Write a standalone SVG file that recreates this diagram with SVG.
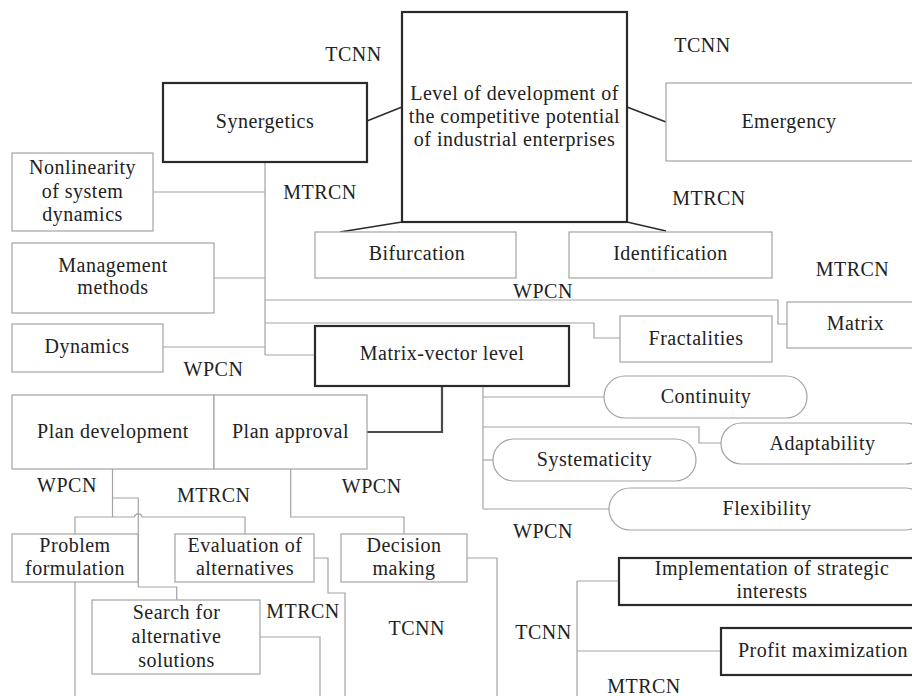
<svg xmlns="http://www.w3.org/2000/svg" width="912" height="696" viewBox="0 0 912 696">
<style>
.box{fill:#fff;stroke:#a3a3a3;stroke-width:1.2}
.tbox{fill:#fff;stroke:#2a2a2a;stroke-width:2.2}
.ln{fill:none;stroke:#a3a3a3;stroke-width:1.2}
.dk{fill:none;stroke:#2a2a2a;stroke-width:1.5}
.dk2{fill:none;stroke:#4a4a4a;stroke-width:2.2}
</style>
<rect width="912" height="696" fill="#fff"/>
<g id="connectors">
<path class="dk" d="M367,121 L402,107"/>
<path class="dk" d="M627,107 L666,122"/>
<path class="dk" d="M402,222 L340,232"/>
<path class="dk" d="M627,222 L666,231"/>
<path class="ln" d="M265,162 V355"/>
<path class="ln" d="M153,192 H265"/>
<path class="ln" d="M214,278 H265"/>
<path class="ln" d="M163,347 H265"/>
<path class="ln" d="M265,355 H315"/>
<path class="ln" d="M265,300 H778 V324 H787"/>
<path class="ln" d="M265,323 H594 V338 H620"/>
<path class="ln" d="M483,386 V509"/>
<path class="ln" d="M483,397 H604"/>
<path class="ln" d="M483,427 H699 V443 H721"/>
<path class="ln" d="M483,460 H493"/>
<path class="ln" d="M483,509 H609"/>
<path d="M488,374 V384" stroke="#a8c0e0" stroke-width="1.2"/>
<path class="dk2" d="M442,386 V432 H367"/>
<path class="ln" d="M112.5,469 V517"/>
<path class="ln" d="M75,534 V517 H134.5 A3.8,3.8 0 0 1 142,517 H245 V534"/>
<path class="ln" d="M112.5,498 H138.3 V587 H176.7 V600"/>
<path class="ln" d="M75,582 V696"/>
<path class="ln" d="M314,558 H328 V593 H345 V696"/>
<path class="ln" d="M290.7,469 V517 H404 V534"/>
<path class="ln" d="M467,558 H497 V696"/>
<path class="ln" d="M260,637 H320 V696"/>
<path class="ln" d="M577,581 V696"/>
<path class="ln" d="M577,581 H619"/>
<path class="ln" d="M577,651 H721"/>
</g>
<g id="labels" font-family="Liberation Serif, serif" font-size="20" fill="#222" text-anchor="middle" letter-spacing="0.5">
<text x="353.5" y="61">TCNN</text>
<text x="702.5" y="52">TCNN</text>
<text x="320" y="199">MTRCN</text>
<text x="709" y="205">MTRCN</text>
<text x="852.5" y="276">MTRCN</text>
<text x="543" y="298">WPCN</text>
<text x="213.5" y="376">WPCN</text>
<text x="543" y="538">WPCN</text>
<text x="67" y="492">WPCN</text>
<text x="213.7" y="502">MTRCN</text>
<text x="371.7" y="493">WPCN</text>
<text x="303" y="618">MTRCN</text>
<text x="416.7" y="635">TCNN</text>
<text x="543.5" y="639">TCNN</text>
<text x="644" y="693">MTRCN</text>
</g>
<g id="nodes" font-family="Liberation Serif, serif" font-size="20" fill="#222" text-anchor="middle" letter-spacing="0.5">
<g id="main"><rect class="tbox" x="402" y="12" width="225" height="210"/>
<text x="514.5" y="100">Level of development of</text>
<text x="514.5" y="123">the competitive potential</text>
<text x="514.5" y="146">of industrial enterprises</text></g>
<g id="synergetics"><rect class="tbox" x="163" y="83" width="204" height="79"/><text x="265" y="128">Synergetics</text></g>
<g id="nonlinearity"><rect class="box" x="12" y="153" width="141" height="78"/>
<text x="82.5" y="174">Nonlinearity</text><text x="82.5" y="198">of system</text><text x="82.5" y="221">dynamics</text></g>
<g id="emergency"><rect class="box" x="666" y="83" width="252" height="78"/><text x="789" y="128">Emergency</text></g>
<g id="bifurcation"><rect class="box" x="315" y="232" width="201" height="46"/><text x="417" y="260">Bifurcation</text></g>
<g id="identification"><rect class="box" x="569" y="232" width="203" height="46"/><text x="670.5" y="260">Identification</text></g>
<g id="management"><rect class="box" x="12" y="243" width="202" height="70"/>
<text x="113" y="272">Management</text><text x="113" y="294">methods</text></g>
<g id="dynamics"><rect class="box" x="12" y="324" width="151" height="48"/><text x="87" y="353">Dynamics</text></g>
<g id="matrixvector"><rect class="tbox" x="315" y="326" width="254" height="60"/><text x="442" y="360">Matrix-vector level</text></g>
<g id="fractalities"><rect class="box" x="620" y="316" width="152" height="46"/><text x="696" y="345">Fractalities</text></g>
<g id="matrix"><rect class="box" x="787" y="302" width="140" height="46"/><text x="855.5" y="330">Matrix</text></g>
<g id="plandev"><rect class="box" x="12" y="395" width="202" height="74"/><text x="113" y="438">Plan development</text></g>
<g id="planapproval"><rect class="box" x="214" y="395" width="153" height="74"/><text x="290.5" y="438">Plan approval</text></g>
<g id="continuity"><rect class="box" x="604" y="376" width="203" height="42" rx="21"/><text x="706" y="403">Continuity</text></g>
<g id="adaptability"><rect class="box" x="721" y="423" width="205" height="41" rx="20.5"/><text x="822.5" y="450">Adaptability</text></g>
<g id="systematicity"><rect class="box" x="493" y="439" width="203" height="42" rx="21"/><text x="594.5" y="466">Systematicity</text></g>
<g id="flexibility"><rect class="box" x="609" y="488" width="317" height="42" rx="21"/><text x="767" y="515">Flexibility</text></g>
<g id="problem"><rect class="box" x="12" y="534" width="126" height="48"/>
<text x="75" y="552">Problem</text><text x="75" y="575">formulation</text></g>
<g id="evaluation"><rect class="box" x="175" y="534" width="139" height="48"/>
<text x="245" y="552">Evaluation of</text><text x="245" y="575">alternatives</text></g>
<g id="decision"><rect class="box" x="341" y="534" width="126" height="48"/>
<text x="404" y="552">Decision</text><text x="404" y="575">making</text></g>
<g id="search"><rect class="box" x="92" y="600" width="168" height="74"/>
<text x="176.5" y="619">Search for</text><text x="176.5" y="643">alternative</text><text x="176.5" y="667">solutions</text></g>
<g id="implementation"><rect class="tbox" x="619" y="558" width="306" height="47"/>
<text x="772" y="575">Implementation of strategic</text><text x="772" y="598">interests</text></g>
<g id="profit"><rect class="tbox" x="721" y="628" width="204" height="47"/><text x="823" y="657">Profit maximization</text></g>
</g>
</svg>
